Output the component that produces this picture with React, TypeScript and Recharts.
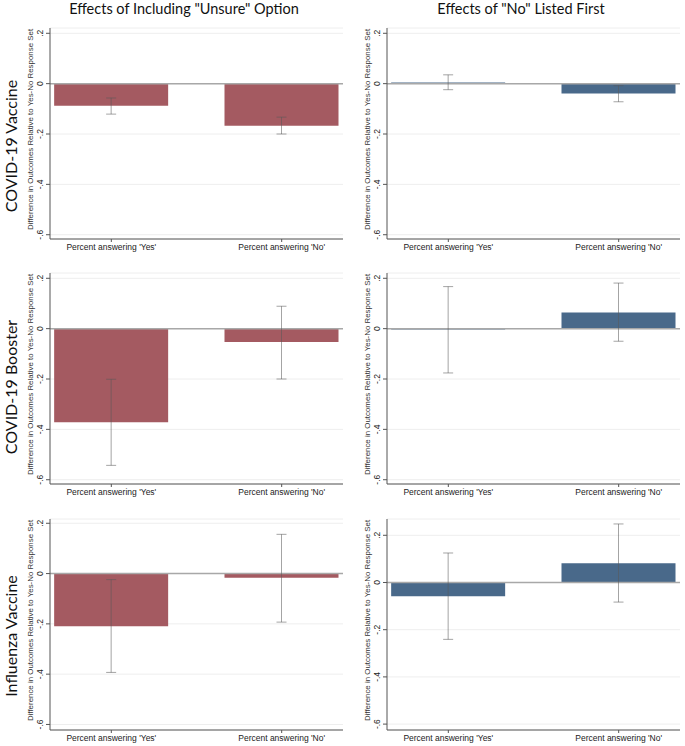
import React from "react";
import { BarChart, Bar, XAxis, YAxis, CartesianGrid, ReferenceLine, ErrorBar } from "recharts";

const categories = ["Percent answering 'Yes'", "Percent answering 'No'"];
const yTicks = [-0.6, -0.4, -0.2, 0, 0.2];
const columnTitles = ['Effects of Including "Unsure" Option', 'Effects of "No" Listed First'];
const rowLabels = ["COVID-19 Vaccine", "COVID-19 Booster", "Influenza Vaccine"];
const yAxisTitle = "Difference in Outcomes Relative to Yes-No Response Set";

// Effects of including "Unsure" option
const vaccineUnsure = [-0.088, -0.167];
const vaccineUnsureLo = [-0.121, -0.2];
const vaccineUnsureHi = [-0.057, -0.133];
const boosterUnsure = [-0.372, -0.053];
const boosterUnsureLo = [-0.543, -0.2];
const boosterUnsureHi = [-0.201, 0.089];
const fluUnsure = [-0.209, -0.017];
const fluUnsureLo = [-0.393, -0.193];
const fluUnsureHi = [-0.024, 0.156];

// Effects of "No" listed first
const vaccineNoFirst = [0.005, -0.039];
const vaccineNoFirstLo = [-0.024, -0.072];
const vaccineNoFirstHi = [0.035, -0.008];
const boosterNoFirst = [-0.003, 0.064];
const boosterNoFirstLo = [-0.176, -0.05];
const boosterNoFirstHi = [0.167, 0.181];
const fluNoFirst = [-0.058, 0.082];
const fluNoFirstLo = [-0.241, -0.083];
const fluNoFirstHi = [0.125, 0.248];

const RED = "#A45A61";
const BLUE = "#49698A";
const SANS = "'Liberation Sans', Arial, sans-serif";
const TITLE_FONT = "Lato, 'Open Sans', sans-serif";

const fmt = (v: number) => {
  if (Math.abs(v) < 1e-9) return "0";
  const s = Math.abs(v).toFixed(1).replace(/^0/, "");
  return (v < 0 ? "-" : "") + s;
};

function build(vals: number[], lo: number[], hi: number[]) {
  return vals.map((v, i) => ({ x: i, v, err: [v - lo[i], hi[i] - v] }));
}

const YTick = (props: any) => {
  const { x, y, payload } = props;
  const bx = x - 1;
  return (
    <text x={bx} y={y} transform={`rotate(-90 ${bx} ${y})`} textAnchor="middle" fontSize={8.5} fill="#222" fontFamily={SANS}>
      {fmt(payload.value)}
    </text>
  );
};

const YTitle = (props: any) => {
  const vb = props.viewBox || {};
  const cx = vb.x + 13;
  const cy = vb.y + vb.height / 2 - 4;
  return (
    <text x={cx} y={cy} transform={`rotate(-90 ${cx} ${cy})`} textAnchor="middle" fontSize={7.9} fill="#333" fontFamily={SANS}>
      {yAxisTitle}
    </text>
  );
};

type PanelProps = {
  left: number;
  top: number;
  vals: number[];
  lo: number[];
  hi: number[];
  color: string;
  domain: [number, number];
};

function Panel({ left, top, vals, lo, hi, color, domain }: PanelProps) {
  const data = build(vals, lo, hi);
  return (
    <div style={{ position: "absolute", left, top }}>
      <BarChart width={325} height={237} data={data} margin={{ top: 10, right: 2, left: 0, bottom: 0 }}>
        <CartesianGrid horizontal vertical={false} stroke="#eeeeee" />
        <XAxis
          type="number"
          dataKey="x"
          domain={[-0.36, 1.36]}
          allowDataOverflow
          ticks={[0, 1]}
          interval={0}
          tickFormatter={(v: number) => categories[v] ?? ""}
          height={16}
          tickSize={3}
          tickMargin={2}
          stroke="#555"
          tick={{ fontSize: 8.5, fill: "#222", fontFamily: SANS }}
        />
        <YAxis
          type="number"
          domain={domain}
          allowDataOverflow
          ticks={yTicks}
          interval={0}
          width={30}
          tickSize={4}
          tickMargin={2}
          stroke="#555"
          tick={<YTick />}
          label={<YTitle />}
        />
        <ReferenceLine y={0} stroke="#a8a8a8" strokeWidth={1.5} />
        <Bar dataKey="v" fill={color} barSize={114} isAnimationActive={false}>
          <ErrorBar dataKey="err" width={5} stroke="rgba(90,90,90,0.55)" strokeWidth={1} direction="y" />
        </Bar>
      </BarChart>
    </div>
  );
}

export default function App() {
  const rowTops = [18, 263, 509];
  const rowCenters = [146, 387, 636];
  return (
    <div style={{ position: "absolute", left: 0, top: 0, width: 685, height: 746, background: "#fff", overflow: "hidden" }}>
      <svg width={685} height={746} style={{ position: "absolute", left: 0, top: 0 }}>
        <text x={184} y={14} textAnchor="middle" fontSize={14.5} fill="#111" fontFamily={TITLE_FONT}>
          {columnTitles[0]}
        </text>
        <text x={521} y={14} textAnchor="middle" fontSize={14.5} fill="#111" fontFamily={TITLE_FONT}>
          {columnTitles[1]}
        </text>
        {rowLabels.map((t, i) => (
          <text
            key={t}
            x={17}
            y={rowCenters[i]}
            transform={`rotate(-90 17 ${rowCenters[i]})`}
            textAnchor="middle"
            fontSize={16}
            fill="#111"
            fontFamily={TITLE_FONT}
          >
            {t}
          </text>
        ))}
      </svg>
      <Panel left={20} top={rowTops[0]} vals={vaccineUnsure} lo={vaccineUnsureLo} hi={vaccineUnsureHi} color={RED} domain={[-0.617, 0.221]} />
      <Panel left={357} top={rowTops[0]} vals={vaccineNoFirst} lo={vaccineNoFirstLo} hi={vaccineNoFirstHi} color={BLUE} domain={[-0.617, 0.221]} />
      <Panel left={20} top={rowTops[1]} vals={boosterUnsure} lo={boosterUnsureLo} hi={boosterUnsureHi} color={RED} domain={[-0.617, 0.221]} />
      <Panel left={357} top={rowTops[1]} vals={boosterNoFirst} lo={boosterNoFirstLo} hi={boosterNoFirstHi} color={BLUE} domain={[-0.617, 0.221]} />
      <Panel left={20} top={rowTops[2]} vals={fluUnsure} lo={fluUnsureLo} hi={fluUnsureHi} color={RED} domain={[-0.622, 0.217]} />
      <Panel left={357} top={rowTops[2]} vals={fluNoFirst} lo={fluNoFirstLo} hi={fluNoFirstHi} color={BLUE} domain={[-0.625, 0.269]} />
    </div>
  );
}
